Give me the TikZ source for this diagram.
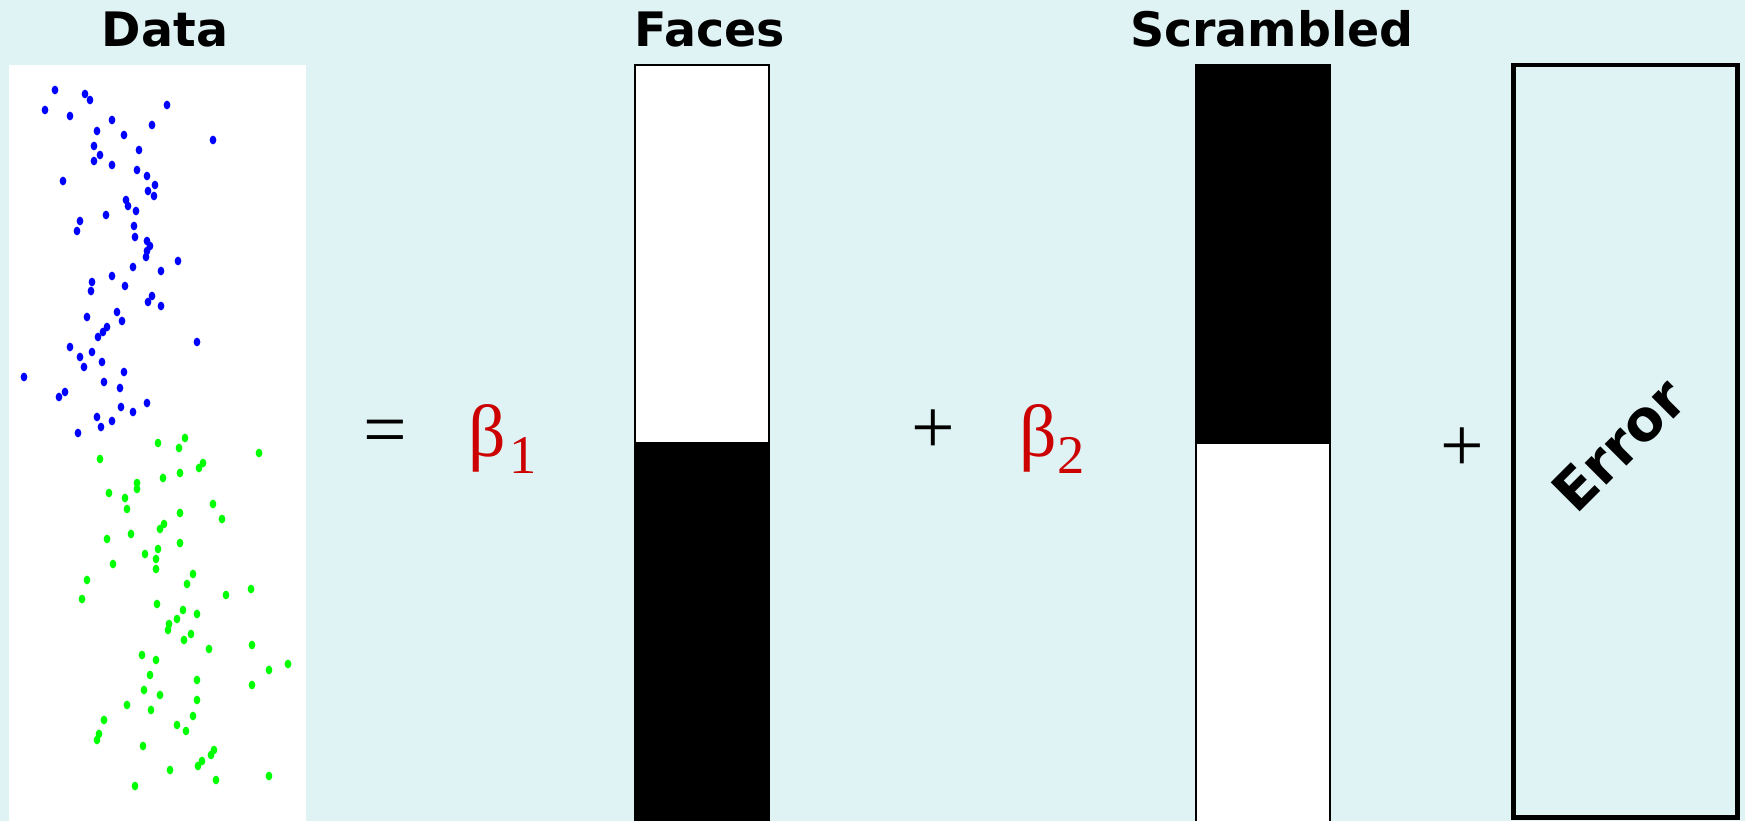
\documentclass[tikz,border=0pt]{standalone}
\usepackage{fontspec}
\usepackage{tikz}
\newfontfamily\headfont{DejaVu Sans}
\newfontfamily\coeffont{Liberation Serif}
\definecolor{panelbg}{RGB}{223,242,244}
\definecolor{coefred}{RGB}{204,0,0}
\definecolor{dotblue}{RGB}{0,0,255}
\definecolor{dotgreen}{RGB}{0,255,0}

\begin{document}
\begin{tikzpicture}[x=0.01cm,y=-0.01cm,
  title/.style={anchor=base,inner sep=0pt,font=\headfont\bfseries\fontsize{13.5}{16}\selectfont},
  sign/.style={inner sep=0pt,font=\coeffont\fontsize{22}{24}\selectfont},
  coef/.style={anchor=base west,inner sep=0pt,text=coefred,font=\coeffont\fontsize{21}{24}\selectfont},
  dot/.style={x radius=0.95pt,y radius=1.25pt}]
\useasboundingbox (0,0) rectangle (1745,821);
\fill[panelbg] (0,0) rectangle (1745,821);
\fill[white] (9,65) rectangle (306,830);
\foreach \x/\y in {55/90,85/94,90/100,45/110,70/116,167/105,112/120,152/125,97/131,124/135,
  213/140,94/146,139/150,100/155,94/161,112/165,137/170,147/176,63/181,155/185,148/191,
  154/196,126/200,128/206,136/211,106/215,80/221,77/231,134/226,135/237,147/241,150/246,
  147/251,146/257,178/261,133/267,161/271,112/276,92/282,91/291,125/286,152/296,148/302,
  161/306,87/317,117/312,122/321,107/327,103/332,98/337,197/342,70/347,92/352,80/357,
  102/362,84/367,24/377,124/372,104/382,120/388,65/392,59/397,147/403,121/407,133/412,
  97/417,112/421,101/427,78/433}
  \fill[dotblue] (\x,\y) ellipse[dot];
\foreach \x/\y in {158/443,185/438,179/448,259/453,100/459,203/463,199/468,163/478,180/473,
  137/483,137/489,109/493,125/498,127/509,213/504,180/513,222/519,164/524,160/529,107/539,
  131/534,180/543,158/549,145/554,156/559,113/564,156/569,193/574,187/584,87/580,82/599,
  251/589,226/595,157/604,183/610,197/614,177/619,169/624,168/630,191/634,184/640,209/649,
  252/645,142/655,156/660,150/675,288/664,269/670,197/680,252/685,144/690,160/695,197/700,
  127/705,151/710,193/716,104/720,177/725,186/731,99/734,97/740,143/746,214/750,211/755,
  202/761,198/766,170/770,216/780,269/776,135/786}
  \fill[dotgreen] (\x,\y) ellipse[dot];
\node[title] (datatitle) at (165,47) {Data};
\node[title] (facestitle) at (710,47) {Faces};
\node[title] (scrtitle) at (1272,47) {Scrambled};
\fill[white] (635,65) rectangle (769,442);
\fill[black] (635,442) rectangle (769,830);
\draw[line width=0.6pt] (635,65) rectangle (769,830);
\fill[black] (1196,65) rectangle (1330,444);
\fill[white] (1196,444) rectangle (1330,830);
\draw[line width=0.6pt] (1196,65) rectangle (1330,830);
\draw[line width=1.42pt] (1513,65) rectangle (1737,817);
\node[sign] (eqsign) at (385,438) {=};
\node[coef] (betaone) at (468,456) {β\kern1pt\raisebox{-5pt}{\fontsize{15.5}{18}\selectfont 1}};
\node[sign] (plusone) at (933,432) {+};
\node[coef] (betatwo) at (1019,456) {β\raisebox{-5pt}{\fontsize{15.5}{18}\selectfont 2}};
\node[sign] (plustwo) at (1462,450) {+};
\node[rotate=45,inner sep=0pt,font=\headfont\bfseries\fontsize{16}{18}\selectfont] (errlabel) at (1619,445) {Error};
\end{tikzpicture}
\end{document}
